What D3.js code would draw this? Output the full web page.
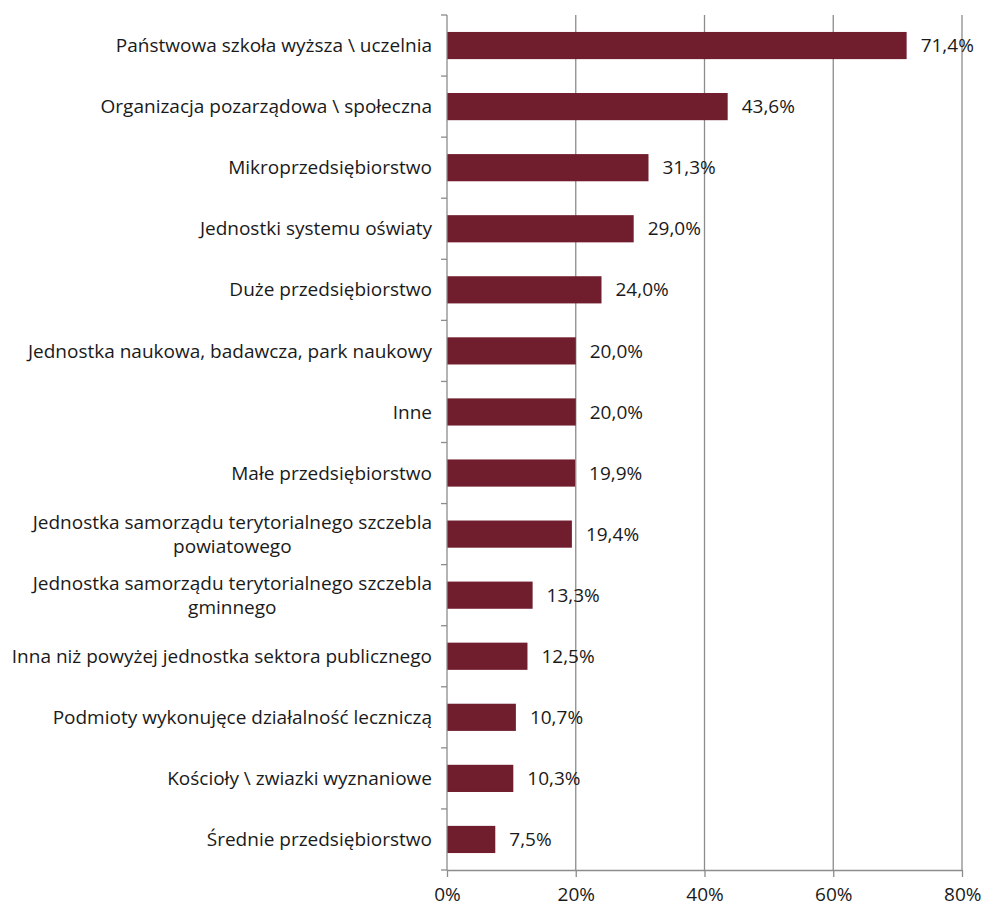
<!DOCTYPE html>
<html>
<head>
<meta charset="utf-8">
<script src="https://cdn.jsdelivr.net/npm/d3@7"></script>
<style>
  html, body { margin: 0; padding: 0; background: #fff; }
  svg text { font-family: "Open Sans", "Noto Sans", sans-serif; fill: #1a1a1a; }
</style>
</head>
<body>
<svg id="chart" width="983" height="908"></svg>
<script>
const categories = [
  ["Państwowa szkoła wyższa \\ uczelnia"],
  ["Organizacja pozarządowa \\ społeczna"],
  ["Mikroprzedsiębiorstwo"],
  ["Jednostki systemu oświaty"],
  ["Duże przedsiębiorstwo"],
  ["Jednostka naukowa, badawcza, park naukowy"],
  ["Inne"],
  ["Małe przedsiębiorstwo"],
  ["Jednostka samorządu terytorialnego szczebla", "powiatowego"],
  ["Jednostka samorządu terytorialnego szczebla", "gminnego"],
  ["Inna niż powyżej jednostka sektora publicznego"],
  ["Podmioty wykonujęce działalność leczniczą"],
  ["Kościoły \\ zwiazki wyznaniowe"],
  ["Średnie przedsiębiorstwo"]
];
const values = [71.4, 43.6, 31.3, 29.0, 24.0, 20.0, 20.0, 19.9, 19.4, 13.3, 12.5, 10.7, 10.3, 7.5];
const xTicks = [0, 20, 40, 60, 80];
const xTickLabels = ["0%", "20%", "40%", "60%", "80%"];

(function () {
const svg = d3.select("#chart");
const mLeft = 447, mRight = 962, mTop = 15, mBottom = 870;
const ids = d3.range(categories.length);
const fs = 19;

const x = d3.scaleLinear().domain([0, 80]).range([mLeft, mRight]);
const y = d3.scaleBand().domain(ids).range([mTop, mBottom]).paddingInner(0.555).paddingOuter(0.2775);

svg.append("g").selectAll("line").data(xTicks.filter(d => d > 0)).join("line")
  .attr("x1", d => x(d)).attr("x2", d => x(d))
  .attr("y1", mTop).attr("y2", mBottom)
  .attr("stroke", "#8c8c8c").attr("stroke-width", 1.3);

svg.append("g").selectAll("rect").data(ids).join("rect")
  .attr("x", x(0)).attr("y", i => y(i))
  .attr("width", i => x(values[i]) - x(0))
  .attr("height", y.bandwidth())
  .attr("fill", "#701d2e");

const xAxis = d3.axisBottom(x).tickValues(xTicks).tickFormat((d, i) => xTickLabels[i]).tickSize(7).tickPadding(11);
const gx = svg.append("g").attr("transform", `translate(0,${mBottom})`).call(xAxis);
gx.select(".domain").attr("stroke", "#8c8c8c").attr("stroke-width", 1.3).attr("d", `M${mLeft},0.5H${mRight}`);
gx.selectAll(".tick line").attr("stroke", "#8c8c8c").attr("stroke-width", 1.3);
gx.selectAll(".tick text").attr("font-size", 19).attr("font-family", "'Open Sans', 'Noto Sans', sans-serif").attr("fill", "#1a1a1a");
gx.selectAll(".tick:last-of-type text").attr("text-anchor", "end").attr("dx", "1.0em");

svg.append("line").attr("x1", mLeft).attr("x2", mLeft).attr("y1", mTop).attr("y2", mBottom)
  .attr("stroke", "#8c8c8c").attr("stroke-width", 1.3);
const bounds = d3.range(categories.length + 1).map(i => mTop + i * (mBottom - mTop) / categories.length);
svg.append("g").selectAll("line").data(bounds).join("line")
  .attr("x1", mLeft - 6).attr("x2", mLeft).attr("y1", d => d).attr("y2", d => d)
  .attr("stroke", "#8c8c8c").attr("stroke-width", 1.3);

const lab = svg.append("g").attr("font-size", fs);
ids.forEach(i => {
  const lines = categories[i];
  const cy = y(i) + y.bandwidth() / 2;
  const lh = 24;
  const g = lab.append("g");
  if (lines.length === 1) {
    g.append("text").attr("x", 432).attr("y", cy).attr("dy", "0.35em")
      .attr("text-anchor", "end").text(lines[0]);
  } else {
    const t0 = g.append("text").attr("x", 432).attr("y", cy - lh / 2).attr("dy", "0.35em")
      .attr("text-anchor", "end").text(lines[0]);
    const w = t0.node().getComputedTextLength();
    g.append("text").attr("x", 432 - w / 2).attr("y", cy + lh / 2).attr("dy", "0.35em")
      .attr("text-anchor", "middle").text(lines[1]);
  }
});

svg.append("g").attr("font-size", fs).selectAll("text").data(ids).join("text")
  .attr("x", i => x(values[i]) + 14).attr("y", i => y(i) + y.bandwidth() / 2).attr("dy", "0.35em")
  .text(i => values[i].toFixed(1).replace(".", ",") + "%");
})();
</script>
</body>
</html>
